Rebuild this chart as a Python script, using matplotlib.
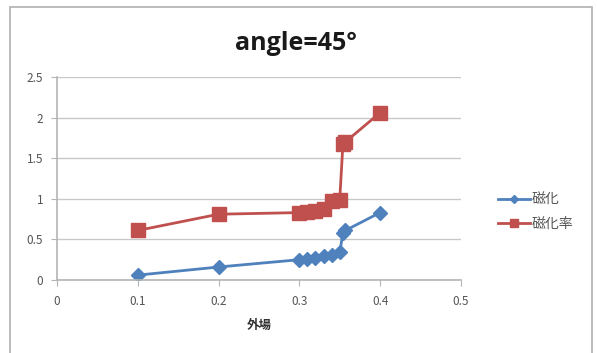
import matplotlib
matplotlib.use("Agg")
import matplotlib.pyplot as plt
from matplotlib.patches import Rectangle

# 外場 values and the two measured series
field = [0.1, 0.2, 0.3, 0.31, 0.32, 0.33, 0.34, 0.35, 0.354, 0.357, 0.4]
magnetization = [0.06, 0.16, 0.25, 0.26, 0.27, 0.29, 0.31, 0.34, 0.58, 0.61, 0.83]
susceptibility = [0.61, 0.81, 0.83, 0.84, 0.85, 0.87, 0.97, 0.99, 1.68, 1.70, 2.06]
series_labels = ["磁化", "磁化率"]
x_ticks = [0, 0.1, 0.2, 0.3, 0.4, 0.5]
x_tick_labels = ["0", "0.1", "0.2", "0.3", "0.4", "0.5"]
y_ticks = [0, 0.5, 1, 1.5, 2, 2.5]
y_tick_labels = ["0", "0.5", "1", "1.5", "2", "2.5"]

plt.rcParams['font.family'] = ['Noto Sans CJK JP', 'DejaVu Sans']

fig = plt.figure(figsize=(5.97, 3.53), dpi=100)
fig.patch.set_facecolor("white")
fig.patches.append(Rectangle((0.017, -0.02), 0.975, 1.0, transform=fig.transFigure,
                             fill=False, edgecolor="#b0b0b0", linewidth=1.2))

ax = fig.add_axes([0.0955, 0.2068, 0.6765, 0.5752])
ax.plot(field, magnetization, color="#4F81BD", marker="D", markersize=7,
        linewidth=2, label=series_labels[0])
ax.plot(field, susceptibility, color="#C0504D", marker="s", markersize=10,
        linewidth=2, label=series_labels[1])

ax.set_xlim(0, 0.5)
ax.set_ylim(0, 2.5)
ax.set_xticks(x_ticks)
ax.set_xticklabels(x_tick_labels)
ax.set_yticks(y_ticks)
ax.set_yticklabels(y_tick_labels)
ax.grid(axis="y", color="#c8c8c8", linewidth=1)
ax.set_axisbelow(True)
for side in ["top", "right"]:
    ax.spines[side].set_visible(False)
for side in ["left", "bottom"]:
    ax.spines[side].set_color("#b4b4b4")
    ax.spines[side].set_linewidth(1.2)
ax.tick_params(axis="both", colors="#b4b4b4", labelcolor="#555555",
               labelsize=8.5, length=4)
ax.tick_params(axis="x", pad=7)
ax.tick_params(axis="y", pad=6)

ax.set_xlabel("外場", fontsize=9, fontweight="bold", color="#333333", labelpad=8)
fig.text(0.495, 0.878, "angle=45°", ha="center", va="center", fontsize=18,
         fontweight="bold", family=["Open Sans", "DejaVu Sans"], color="#1a1a1a")

ax.legend(loc="center left", bbox_to_anchor=(1.06, 0.335), frameon=False,
          fontsize=10, labelcolor="#555555", handlelength=2.3, handletextpad=0.15,
          markerscale=0.55, labelspacing=0.7)

fig.savefig("out.png", dpi=100)
